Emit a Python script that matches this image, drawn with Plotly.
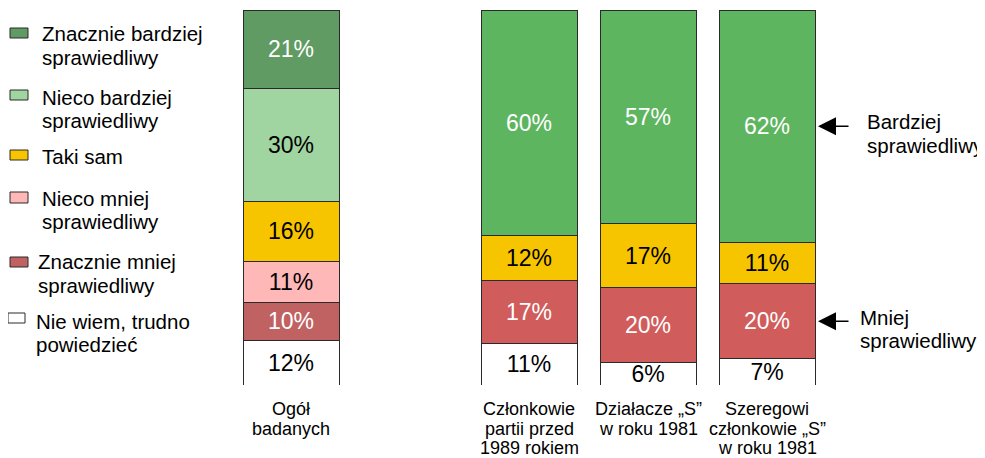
import plotly.graph_objects as go

# reference canvas size and page offset (browser body margin)
REF_W, REF_H = 985, 458
OFF = 8
W, H = REF_W - OFF, REF_H - OFF
PLOT_TOP, PLOT_BOTTOM = 10, 385  # in reference pixels
FONT = "Liberation Sans, Arial, sans-serif"

# ---- data ----
group_lines = [
    ["Ogół", "badanych"],
    ["Członkowie", "partii przed", "1989 rokiem"],
    ["Działacze „S”", "w roku 1981"],
    ["Szeregowi", "członkowie „S”", "w roku 1981"],
]
x_pos = [0, 2, 3, 4]

# Ogół badanych, bottom -> top
ogol_labels = [
    ["Nie wiem, trudno", "powiedzieć"],
    ["Znacznie mniej", "sprawiedliwy"],
    ["Nieco mniej", "sprawiedliwy"],
    ["Taki sam"],
    ["Nieco bardziej", "sprawiedliwy"],
    ["Znacznie bardziej", "sprawiedliwy"],
]
ogol_values = [12, 10, 11, 16, 30, 21]
ogol_colors = ["#ffffff", "#c06262", "#ffb8b8", "#f7c400", "#a0d4a0", "#5f9b62"]
ogol_text_colors = ["black", "white", "black", "black", "black", "white"]

# Sub-groups (Członkowie partii, Działacze S, Szeregowi członkowie S), bottom -> top
sub_nie_wiem = [11, 6, 7]
sub_mniej = [17, 20, 20]
sub_taki_sam = [12, 17, 11]
sub_bardziej = [60, 57, 62]
sub_series = [sub_nie_wiem, sub_mniej, sub_taki_sam, sub_bardziej]
sub_colors = ["#ffffff", "#d05c5c", "#f7c400", "#5eb55f"]
sub_text_colors = ["black", "white", "black", "white"]

side_labels = [["Bardziej", "sprawiedliwy"], ["Mniej", "sprawiedliwy"]]

# ---- figure ----
SPACING = 119.0
BAR_W = 96.0 / SPACING
CENTER0 = 291.0 - OFF

fig = go.Figure()


def add_bar(xs, vals, color, tcolor):
    fig.add_trace(go.Bar(
        x=xs, y=vals, width=BAR_W,
        marker=dict(color=color, line=dict(color="#2a2a2a", width=1)),
        text=[f"{v}%" for v in vals],
        textposition="inside", insidetextanchor="middle", textangle=0,
        textfont=dict(family=FONT, size=23, color=tcolor),
        hoverinfo="skip", showlegend=False,
    ))


for v, c, tc in zip(ogol_values, ogol_colors, ogol_text_colors):
    add_bar([x_pos[0]], [v], c, tc)
for vals, c, tc in zip(sub_series, sub_colors, sub_text_colors):
    add_bar(x_pos[1:], vals, c, tc)


def px_x(x):
    return (x - OFF) / W


def px_y(y):
    return (PLOT_BOTTOM - y) / (PLOT_BOTTOM - PLOT_TOP)


annotations = []
shapes = []


def text_line(txt, x, y, size=20.5, xanchor="left", xref="paper"):
    annotations.append(dict(
        text=txt, x=x, y=px_y(y), xref=xref, yref="paper",
        xanchor=xanchor, yanchor="middle", showarrow=False,
        font=dict(family=FONT, size=size, color="black"),
    ))


# group labels under bars
for xp, lines in zip(x_pos, group_lines):
    for i, ln in enumerate(lines):
        text_line(ln, xp, 409 + 19.5 * i, size=18, xanchor="center", xref="x")

# custom legend (top -> bottom)
legend_layout = [
    # swatch x0, x1, y0, y1, text x, first line y
    (10, 28, 28, 38, 40, 34),
    (10, 28, 90, 100, 40, 97),
    (10, 28, 150, 160, 40, 156),
    (10, 28, 192, 203, 40, 198),
    (10, 28, 257, 267, 36, 262),
    (8, 25, 313, 323, 34, 321),
]
leg_items = list(zip(ogol_labels, ogol_colors))[::-1]
for (lines, col), (x0, x1, y0, y1, tx, ty) in zip(leg_items, legend_layout):
    shapes.append(dict(
        type="rect", xref="paper", yref="paper",
        x0=px_x(x0), x1=px_x(x1), y0=px_y(y1), y1=px_y(y0),
        fillcolor=col, line=dict(color="#2a2a2a", width=1),
    ))
    for i, ln in enumerate(lines):
        text_line(ln, px_x(tx), ty + 23.5 * i)

# arrows pointing at the last bar
bar4_right = x_pos[3] + BAR_W / 2 + 3.0 / SPACING
arrow_targets = [
    sub_nie_wiem[2] + sub_mniej[2] + sub_taki_sam[2] + sub_bardziej[2] / 2,
    sub_nie_wiem[2] + sub_mniej[2] / 2,
]
for yv in arrow_targets:
    annotations.append(dict(
        text="", x=bar4_right, y=yv, xref="x", yref="y",
        ax=32, ay=0, showarrow=True, arrowhead=2, arrowsize=2.4,
        arrowwidth=1.5, arrowcolor="black", standoff=0,
    ))
side_pos = [(865, 122), (858, 317)]
for lines, (sx, sy) in zip(side_labels, side_pos):
    for i, ln in enumerate(lines):
        text_line(ln, px_x(sx), sy + 23 * i)

fig.update_layout(
    width=W, height=H,
    barmode="stack",
    margin=dict(l=0, r=0, t=PLOT_TOP - OFF, b=H - (PLOT_BOTTOM - OFF), pad=0),
    paper_bgcolor="white", plot_bgcolor="white",
    xaxis=dict(range=[-CENTER0 / SPACING, (W - CENTER0) / SPACING], visible=False, fixedrange=True),
    yaxis=dict(range=[0, 100], visible=False, fixedrange=True),
    uniformtext=dict(minsize=23, mode="show"),
    annotations=annotations,
    shapes=shapes,
    font=dict(family=FONT),
)

fig.write_html("out.html")
